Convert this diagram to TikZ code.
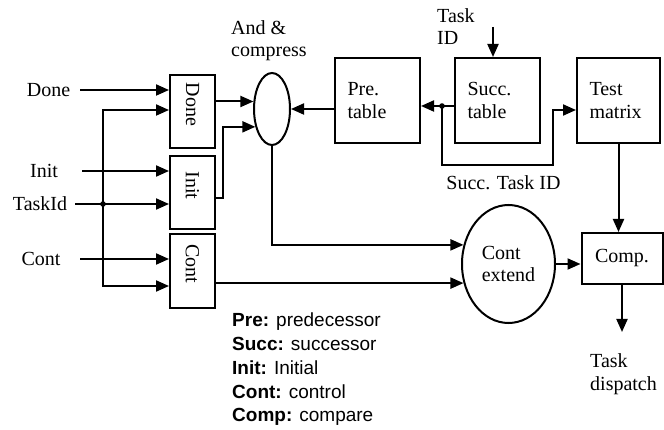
\documentclass[tikz,border=0pt]{standalone}
\usepackage{fontspec}
\setmainfont{Liberation Serif}
\newfontfamily\keyfont{Liberation Sans}
\usepackage{tikz}
\usetikzlibrary{arrows.meta,shapes.geometric}
\tikzset{
  blk/.style={draw,line width=2pt,inner sep=0pt},
  gate/.style={blk,minimum width=45pt,minimum height=73pt},
  tbl/.style={blk,minimum height=85pt,text width=60pt,inner xsep=12.5pt,align=left},
  oval/.style={blk,ellipse},
  vtxt/.style={rotate=-90,inner sep=0pt},
  lbl/.style={inner sep=0pt,align=left},
  sig/.style={line width=2pt,-{Triangle[length=13pt,width=11pt]}},
}
\newcommand{\jdot}[1]{\fill (#1) circle (2.8pt);}

\begin{document}
\begin{tikzpicture}[x=1pt,y=-1pt,font=\fontsize{20}{22.5}\selectfont]
  \useasboundingbox (0,0) rectangle (664,430);
  % input gates
  \node[gate] (doneBox) at (192.5,111.5) {};
  \node[gate] (initBox) at (192.5,192.5) {};
  \node[gate,minimum height=74pt] (contBox) at (192.5,271) {};
  \node[vtxt] (doneTxt) at ([yshift=7pt]doneBox.center) {Done};
  \node[vtxt] (initTxt) at ([yshift=7pt]initBox.center) {Init};
  \node[vtxt] (contTxt) at ([yshift=7pt]contBox.center) {Cont};
  % tables
  \node[oval,minimum width=36pt,minimum height=72pt] (andNode) at (272,109) {};
  \node[tbl] (preTab) at (377.5,100.5) {Pre.\\table};
  \node[tbl] (succTab) at (497.5,100.5) {Succ.\\table};
  \node[tbl,text width=58pt] (testMat) at (618.5,100.5) {Test\\matrix};
  \node[oval,minimum width=93pt,minimum height=118pt,align=left] (contExt) at (508.5,264) {Cont\\extend};
  \node[blk,minimum width=81pt,minimum height=51pt] (compBox) at (622,258.5) {Comp.};
  % labels
  \node[lbl] (doneLbl) at (48.5,90) {Done};
  \node[lbl] (initLbl) at (44,171) {Init};
  \node[lbl] (taskLbl) at (40,204) {TaskId};
  \node[lbl] (contLbl) at (41,259) {Cont};
  \node[lbl] (andLbl) at (269,40.5) {And \&\\compress};
  \node[lbl,anchor=west] (taskIdLbl) at (437,26.5) {Task\\ID};
  \node[lbl] (succIdLbl) at (503.5,183) {Succ. Task ID};
  \node[lbl,anchor=west] (dispLbl) at (590,374) {Task\\dispatch};
  \node[lbl,anchor=north west,font=\keyfont\fontsize{19}{23.75}\selectfont] (keyLbl) at (232,313)
    {\textbf{Pre:} predecessor\\\textbf{Succ:} successor\\\textbf{Init:} Initial\\\textbf{Cont:} control\\\textbf{Comp:} compare};
  % wires
  \coordinate (inDone) at (80,90);
  \coordinate (inInit) at (82,171);
  \coordinate (inTask) at (75,204);
  \coordinate (inCont) at (80,259);
  \coordinate (busTop) at (103,110);
  \coordinate (busBot) at (103,286);
  \coordinate (initOut) at ([yshift=-5.5pt]initBox.east);
  \coordinate (jn) at (442,106);
  \coordinate (loopR) at (553,165);
  \coordinate (tmIn) at ([yshift=-9.5pt]testMat.west);
  \coordinate (taskTop) at (493,27);
  \coordinate (dispEnd) at (622,332);
  \draw[sig] (inDone) -- (inDone -| doneBox.west);
  \draw[sig] (inInit) -- (inInit -| initBox.west);
  \draw[sig] (inTask) -- (inTask -| initBox.west);
  \draw[sig] (inCont) -- (inCont -| contBox.west);
  \draw[sig,{Triangle[length=13pt,width=11pt]}-{Triangle[length=13pt,width=11pt]}]
    (busTop -| doneBox.west) -- (busTop) -- (busBot) -- (busBot -| contBox.west);
  \jdot{inTask -| busTop}
  \draw[sig] (doneBox.east |- andNode.158) -- (andNode.158);
  \draw[sig] (initOut) -- ++(7,0) |- (andNode.227);
  \draw[sig] (preTab.west |- andNode.east) -- (andNode.east);
  \draw[sig] (succTab.west |- jn) -- (preTab.east |- jn);
  \jdot{jn}
  \draw[sig] (jn) |- (loopR) |- (tmIn);
  \draw[sig] (taskTop) -- (taskTop |- succTab.north);
  \draw[sig] (andNode.south) |- (contExt.157);
  \draw[sig] (contBox.east |- contExt.203) -- (contExt.203);
  \draw[sig] (contExt.east) -- (compBox.west |- contExt.east);
  \draw[sig] (testMat.south) -- (testMat.south |- compBox.north);
  \draw[sig] (compBox.south) -- (dispEnd);
\end{tikzpicture}
\end{document}
